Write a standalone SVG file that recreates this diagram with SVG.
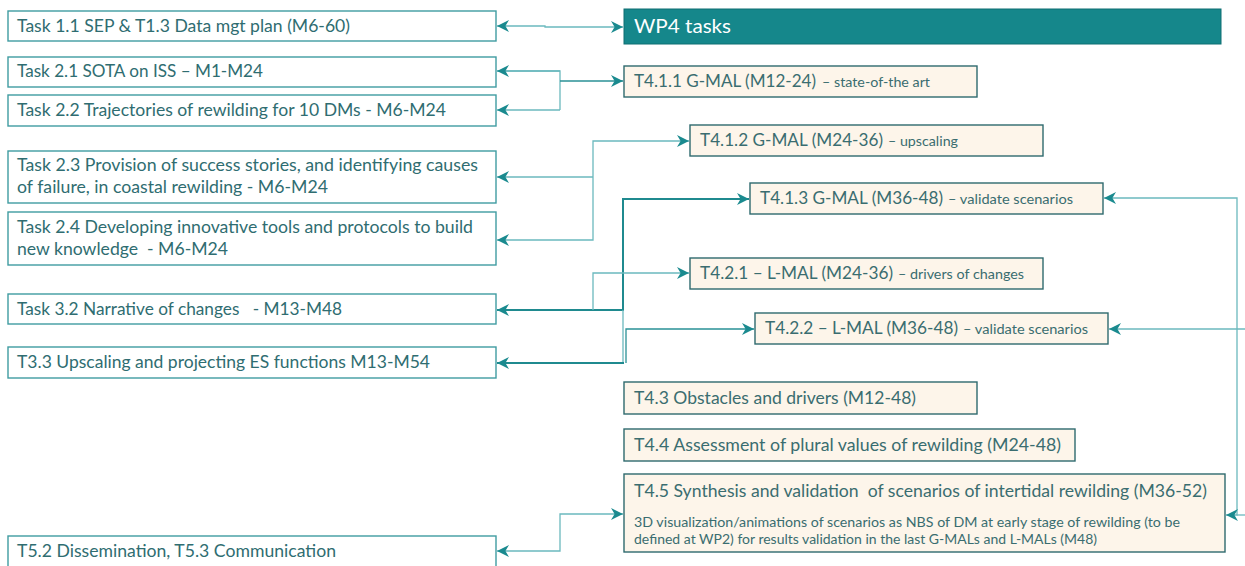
<svg xmlns="http://www.w3.org/2000/svg" width="1245" height="566" viewBox="0 0 1245 566">
  <style>
    text { font-family: Lato, "Liberation Sans", sans-serif; white-space: pre; }
    .src rect { fill: #ffffff; stroke: #3f9ca1; stroke-width: 1.4; }
    .src text { fill: #2f6d71; font-size: 16.5px; }
    .wp rect { fill: #fdf5ea; stroke: #2e6a6e; stroke-width: 1.4; }
    .wp text { fill: #3a6d70; font-size: 16.5px; }
    .wp text.sm { font-size: 12.5px; }
    .head rect { fill: #15878b; stroke: #0f6f73; stroke-width: 1; }
    .head text { fill: #ffffff; font-size: 20px; }
    .c { fill: none; stroke: #6bb9be; stroke-width: 1.3; }
    .c.dk { stroke: #2a9196; }
    .c.thick { stroke: #1f8a8f; stroke-width: 2; }
    .arr { marker-end: url(#ah); }
    .both { marker-start: url(#ah); marker-end: url(#ah); }
  </style>
  <defs>
    <marker id="ah" markerUnits="userSpaceOnUse" markerWidth="12" markerHeight="12" viewBox="0 0 10 10" refX="10" refY="5" orient="auto-start-reverse">
      <path d="M0,0 L10,5 L0,10 L3,5 Z" fill="#1a8a8f"/>
    </marker>
  </defs>

  <!-- connectors -->
  <g id="connectors">
    <path class="c both" d="M497,26 H545 V27 H623"/>
    <path class="c" d="M497,71 H560 V110"/>
    <path class="c" d="M560,110 H497" marker-end="url(#ah)"/>
    <path class="c" d="M560,71 H497" marker-end="url(#ah)"/>
    <path class="c dk arr" d="M560,81 H623"/>
    <path class="c both" d="M497,240 H593 V141 H689"/>
    <path class="c arr" d="M593,177 H497"/>
    <path class="c thick both" d="M497,310 H623 V199 H749"/>
    <path class="c arr" d="M593,310 V273 H689"/>
    <path class="c" d="M623,310 V363"/>
    <path class="c thick" d="M624,363 H497" marker-end="url(#ah)"/>
    <path class="c dk arr" d="M626,363 V329 H754"/>
    <path class="c arr" d="M1245,329 H1109"/>
    <path class="c both" d="M1104,198 H1237 V515 H1226"/>
    <path class="c" d="M1237,515 H1245"/>
    <path class="c both" d="M497,551 H560 V514 H623"/>
  </g>

  <!-- left column: tasks of other work packages -->
  <g id="task-1-1" class="src">
    <rect x="8" y="11" width="488" height="30"/>
    <text x="17" y="32" textLength="333" lengthAdjust="spacingAndGlyphs">Task 1.1 SEP &amp; T1.3 Data mgt plan (M6-60)</text>
  </g>
  <g id="task-2-1" class="src">
    <rect x="8" y="57" width="488" height="30"/>
    <text x="17" y="77" textLength="246" lengthAdjust="spacingAndGlyphs">Task 2.1 SOTA on ISS – M1-M24</text>
  </g>
  <g id="task-2-2" class="src">
    <rect x="8" y="95" width="488" height="31"/>
    <text x="17" y="116" textLength="429" lengthAdjust="spacingAndGlyphs">Task 2.2 Trajectories of rewilding for 10 DMs - M6-M24</text>
  </g>
  <g id="task-2-3" class="src">
    <rect x="8" y="151" width="488" height="52"/>
    <text x="17" y="171" textLength="461" lengthAdjust="spacingAndGlyphs">Task 2.3 Provision of success stories, and identifying causes</text>
    <text x="17" y="193" textLength="311" lengthAdjust="spacingAndGlyphs">of failure, in coastal rewilding - M6-M24</text>
  </g>
  <g id="task-2-4" class="src">
    <rect x="8" y="212" width="488" height="53"/>
    <text x="17" y="233" textLength="456" lengthAdjust="spacingAndGlyphs">Task 2.4 Developing innovative tools and protocols to build</text>
    <text x="17" y="255" textLength="211" lengthAdjust="spacingAndGlyphs">new knowledge  - M6-M24</text>
  </g>
  <g id="task-3-2" class="src">
    <rect x="8" y="294" width="488" height="30"/>
    <text x="17" y="315" textLength="325" lengthAdjust="spacingAndGlyphs">Task 3.2 Narrative of changes   - M13-M48</text>
  </g>
  <g id="task-3-3" class="src">
    <rect x="8" y="347" width="488" height="31"/>
    <text x="17" y="368" textLength="413" lengthAdjust="spacingAndGlyphs">T3.3 Upscaling and projecting ES functions M13-M54</text>
  </g>
  <g id="task-5-2" class="src">
    <rect x="8" y="536" width="488" height="32"/>
    <text x="17" y="557" textLength="319" lengthAdjust="spacingAndGlyphs">T5.2 Dissemination, T5.3 Communication</text>
  </g>

  <!-- right column: WP4 tasks -->
  <g id="wp4-header" class="head">
    <rect x="624" y="9" width="597" height="35"/>
    <text x="634" y="33" textLength="97" lengthAdjust="spacingAndGlyphs">WP4 tasks</text>
  </g>
  <g id="t4-1-1" class="wp">
    <rect x="624" y="66" width="353" height="31"/>
    <text x="634" y="87" textLength="182" lengthAdjust="spacingAndGlyphs">T4.1.1 G-MAL (M12-24)</text>
    <text class="sm" x="822" y="87" textLength="108" lengthAdjust="spacingAndGlyphs">– state-of-the art</text>
  </g>
  <g id="t4-1-2" class="wp">
    <rect x="690" y="125" width="353" height="31"/>
    <text x="700" y="146" textLength="183" lengthAdjust="spacingAndGlyphs">T4.1.2 G-MAL (M24-36)</text>
    <text class="sm" x="888" y="146" textLength="70" lengthAdjust="spacingAndGlyphs">– upscaling</text>
  </g>
  <g id="t4-1-3" class="wp">
    <rect x="750" y="183" width="353" height="31"/>
    <text x="760" y="204" textLength="183" lengthAdjust="spacingAndGlyphs">T4.1.3 G-MAL (M36-48)</text>
    <text class="sm" x="948" y="204" textLength="125" lengthAdjust="spacingAndGlyphs">– validate scenarios</text>
  </g>
  <g id="t4-2-1" class="wp">
    <rect x="690" y="258" width="353" height="31"/>
    <text x="700" y="279" textLength="193" lengthAdjust="spacingAndGlyphs">T4.2.1 – L-MAL (M24-36)</text>
    <text class="sm" x="898" y="279" textLength="126" lengthAdjust="spacingAndGlyphs">– drivers of changes</text>
  </g>
  <g id="t4-2-2" class="wp">
    <rect x="755" y="313" width="353" height="31"/>
    <text x="765" y="334" textLength="193" lengthAdjust="spacingAndGlyphs">T4.2.2 – L-MAL (M36-48)</text>
    <text class="sm" x="963" y="334" textLength="125" lengthAdjust="spacingAndGlyphs">– validate scenarios</text>
  </g>
  <g id="t4-3" class="wp">
    <rect x="624" y="382" width="353" height="32"/>
    <text x="634" y="404" textLength="282" lengthAdjust="spacingAndGlyphs">T4.3 Obstacles and drivers (M12-48)</text>
  </g>
  <g id="t4-4" class="wp">
    <rect x="624" y="429" width="451" height="32"/>
    <text x="634" y="451" textLength="427" lengthAdjust="spacingAndGlyphs">T4.4 Assessment of plural values of rewilding (M24-48)</text>
  </g>
  <g id="t4-5" class="wp">
    <rect x="624" y="474" width="601" height="78"/>
    <text x="634" y="497" textLength="573" lengthAdjust="spacingAndGlyphs">T4.5 Synthesis and validation  of scenarios of intertidal rewilding (M36-52)</text>
    <text class="sm" x="634" y="527" textLength="546" lengthAdjust="spacingAndGlyphs">3D visualization/animations of scenarios as NBS of DM at early stage of rewilding (to be</text>
    <text class="sm" x="634" y="544" textLength="463" lengthAdjust="spacingAndGlyphs">defined at WP2) for results validation in the last G-MALs and L-MALs (M48)</text>
  </g>
</svg>
